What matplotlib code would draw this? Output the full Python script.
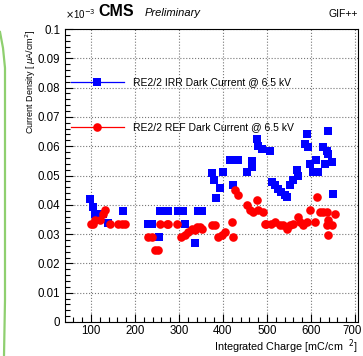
import numpy as np
import matplotlib
matplotlib.use("Agg")
import matplotlib.pyplot as plt
import matplotlib.transforms as mtransforms
from matplotlib.lines import Line2D
from matplotlib.ticker import MultipleLocator

plt.rcParams['font.family'] = ['Liberation Sans', 'DejaVu Sans']

# RE2/2 IRR dark current (x1e-3 uA/cm2) vs integrated charge (mC/cm2)
irr_q = [98, 105, 109, 128, 139, 173, 230, 238, 254, 257, 276, 298, 310, 314,
         336, 344, 352, 374, 380, 384, 393, 401, 416, 422, 435, 454, 465, 467,
         477, 480, 488, 507, 512, 518, 526, 533, 541, 545, 552, 560, 569, 571,
         586, 590, 594, 598, 605, 611, 617, 628, 632, 636, 639, 639, 647, 651]
irr_v = [0.0421, 0.0392, 0.037, 0.037, 0.0339, 0.0379, 0.0333, 0.0333, 0.029,
         0.0378, 0.0378, 0.0378, 0.0378, 0.0333, 0.027, 0.0378, 0.0378, 0.0508,
         0.0483, 0.0423, 0.0458, 0.0511, 0.0553, 0.0469, 0.0553, 0.0511, 0.0528,
         0.0548, 0.0625, 0.0602, 0.059, 0.0585, 0.0477, 0.0466, 0.0455, 0.0443,
         0.0432, 0.0426, 0.0466, 0.0483, 0.0519, 0.05, 0.0608, 0.0642, 0.0596,
         0.054, 0.0511, 0.0553, 0.0511, 0.0596, 0.054, 0.0585, 0.0653, 0.0574,
         0.0545, 0.0438]

# RE2/2 REF dark current
ref_q = [99, 105, 109, 120, 128, 132, 143, 162, 170, 177, 230, 238, 245, 253,
         257, 272, 276, 296, 304, 314, 321, 329, 336, 340, 348, 352, 374, 382,
         389, 397, 405, 420, 422, 427, 435, 454, 461, 469, 477, 480, 492, 495,
         499, 510, 518, 530, 537, 545, 552, 560, 571, 575, 583, 590, 598, 609,
         613, 620, 628, 636, 636, 639, 639, 647, 655]
ref_v = [0.0333, 0.0333, 0.0347, 0.0349, 0.037, 0.0381, 0.0333, 0.0333, 0.0333,
         0.0333, 0.029, 0.029, 0.0245, 0.0245, 0.0333, 0.0333, 0.0333, 0.0333,
         0.029, 0.0296, 0.0307, 0.0319, 0.0313, 0.0324, 0.0324, 0.0319, 0.033,
         0.033, 0.029, 0.0296, 0.0307, 0.0341, 0.029, 0.0449, 0.0432, 0.0398,
         0.0381, 0.0375, 0.0415, 0.0381, 0.0375, 0.0336, 0.0336, 0.0336, 0.0341,
         0.033, 0.033, 0.0319, 0.033, 0.0336, 0.0358, 0.0341, 0.033, 0.0341,
         0.0381, 0.0341, 0.0426, 0.0375, 0.0375, 0.0375, 0.033, 0.0347, 0.0296,
         0.033, 0.037]

x_ticks = [100, 200, 300, 400, 500, 600, 700]
y_ticks = [0, 0.01, 0.02, 0.03, 0.04, 0.05, 0.06, 0.07, 0.08, 0.09, 0.1]
y_ticklabels = ['0', '0.01', '0.02', '0.03', '0.04', '0.05', '0.06', '0.07', '0.08', '0.09', '0.1']

W, H = 363, 356
fig = plt.figure(figsize=(W / 100, H / 100), dpi=100)
ax = fig.add_axes([65 / W, 1 - 322 / H, 293 / W, 293 / H])

ax.plot(irr_q, irr_v, 's', color='#0000ff', ms=5.8, mew=0, linestyle='none')
ax.plot(ref_q, ref_v, 'o', color='#ff0000', ms=6.2, mew=0, linestyle='none')

ax.set_xlim(41, 707)
ax.set_ylim(0, 0.1)
ax.set_xticks(x_ticks)
ax.xaxis.set_minor_locator(MultipleLocator(20))
ax.set_yticks(y_ticks)
ax.set_yticklabels(y_ticklabels)
ax.yaxis.set_minor_locator(MultipleLocator(0.002))
ax.tick_params(which='both', direction='in', top=False, right=False, labelsize=8.3)
ax.tick_params(which='major', length=6, width=0.8)
ax.tick_params(which='minor', length=3.5, width=0.8)
ax.tick_params(axis='x', pad=2)
ax.grid(True, which='major', linestyle=':', color='#777777', lw=0.8)
for s in ax.spines.values():
    s.set_linewidth(0.8)

# nudge the last x label so it stays inside the canvas
lab = ax.xaxis.get_major_ticks()[-1].label1
lab.set_transform(lab.get_transform() + mtransforms.ScaledTranslation(-3 / 100, 0, fig.dpi_scale_trans))

# legend
h1 = Line2D([], [], color='#0000ff', marker='s', ms=5.8, mew=0, lw=0.9)
h2 = Line2D([], [], color='#ff0000', marker='o', ms=6.2, mew=0, lw=0.9)
ax.legend([h1, h2], ['RE2/2 IRR Dark Current @ 6.5 kV', 'RE2/2 REF Dark Current @ 6.5 kV'],
          loc='upper left', bbox_to_anchor=(0.022, 0.835), frameon=False,
          fontsize=7.5, handlelength=5.0, handletextpad=0.9, labelspacing=3.35,
          borderpad=0, borderaxespad=0, numpoints=1)

ax.set_ylabel(r'Current Density [ $\mu$A/cm$^2$]', fontsize=6.5, ha='right')
ax.yaxis.set_label_coords(-0.092, 1.0)
ax.set_xlabel(r'Integrated Charge [mC/cm  $^2$]', fontsize=7.8, ha='right')
ax.xaxis.set_label_coords(1.0, -0.052)

fig.text(65 / W, 1 - 14 / H, r'$\times$10$^{-3}$', fontsize=7, va='center', ha='left')
fig.text(98 / W, 1 - 12 / H, 'CMS', fontsize=11.5, fontweight='bold', va='center', ha='left')
fig.text(145 / W, 1 - 13 / H, 'Preliminary', fontsize=8, style='italic', va='center', ha='left')
fig.text(358 / W, 1 - 14 / H, 'GIF++', fontsize=7.5, va='center', ha='right')

# green slide border at the left edge
fig.add_artist(Line2D([0 / W, 3 / W, 5 / W, 5 / W, 4 / W],
                     [1 - 32 / H, 1 - 48 / H, 1 - 68 / H, 1 - 300 / H, 1 - 356 / H],
                     color='#8fcf6f', lw=1.6, transform=fig.transFigure))

fig.savefig('out.png', dpi=100)
